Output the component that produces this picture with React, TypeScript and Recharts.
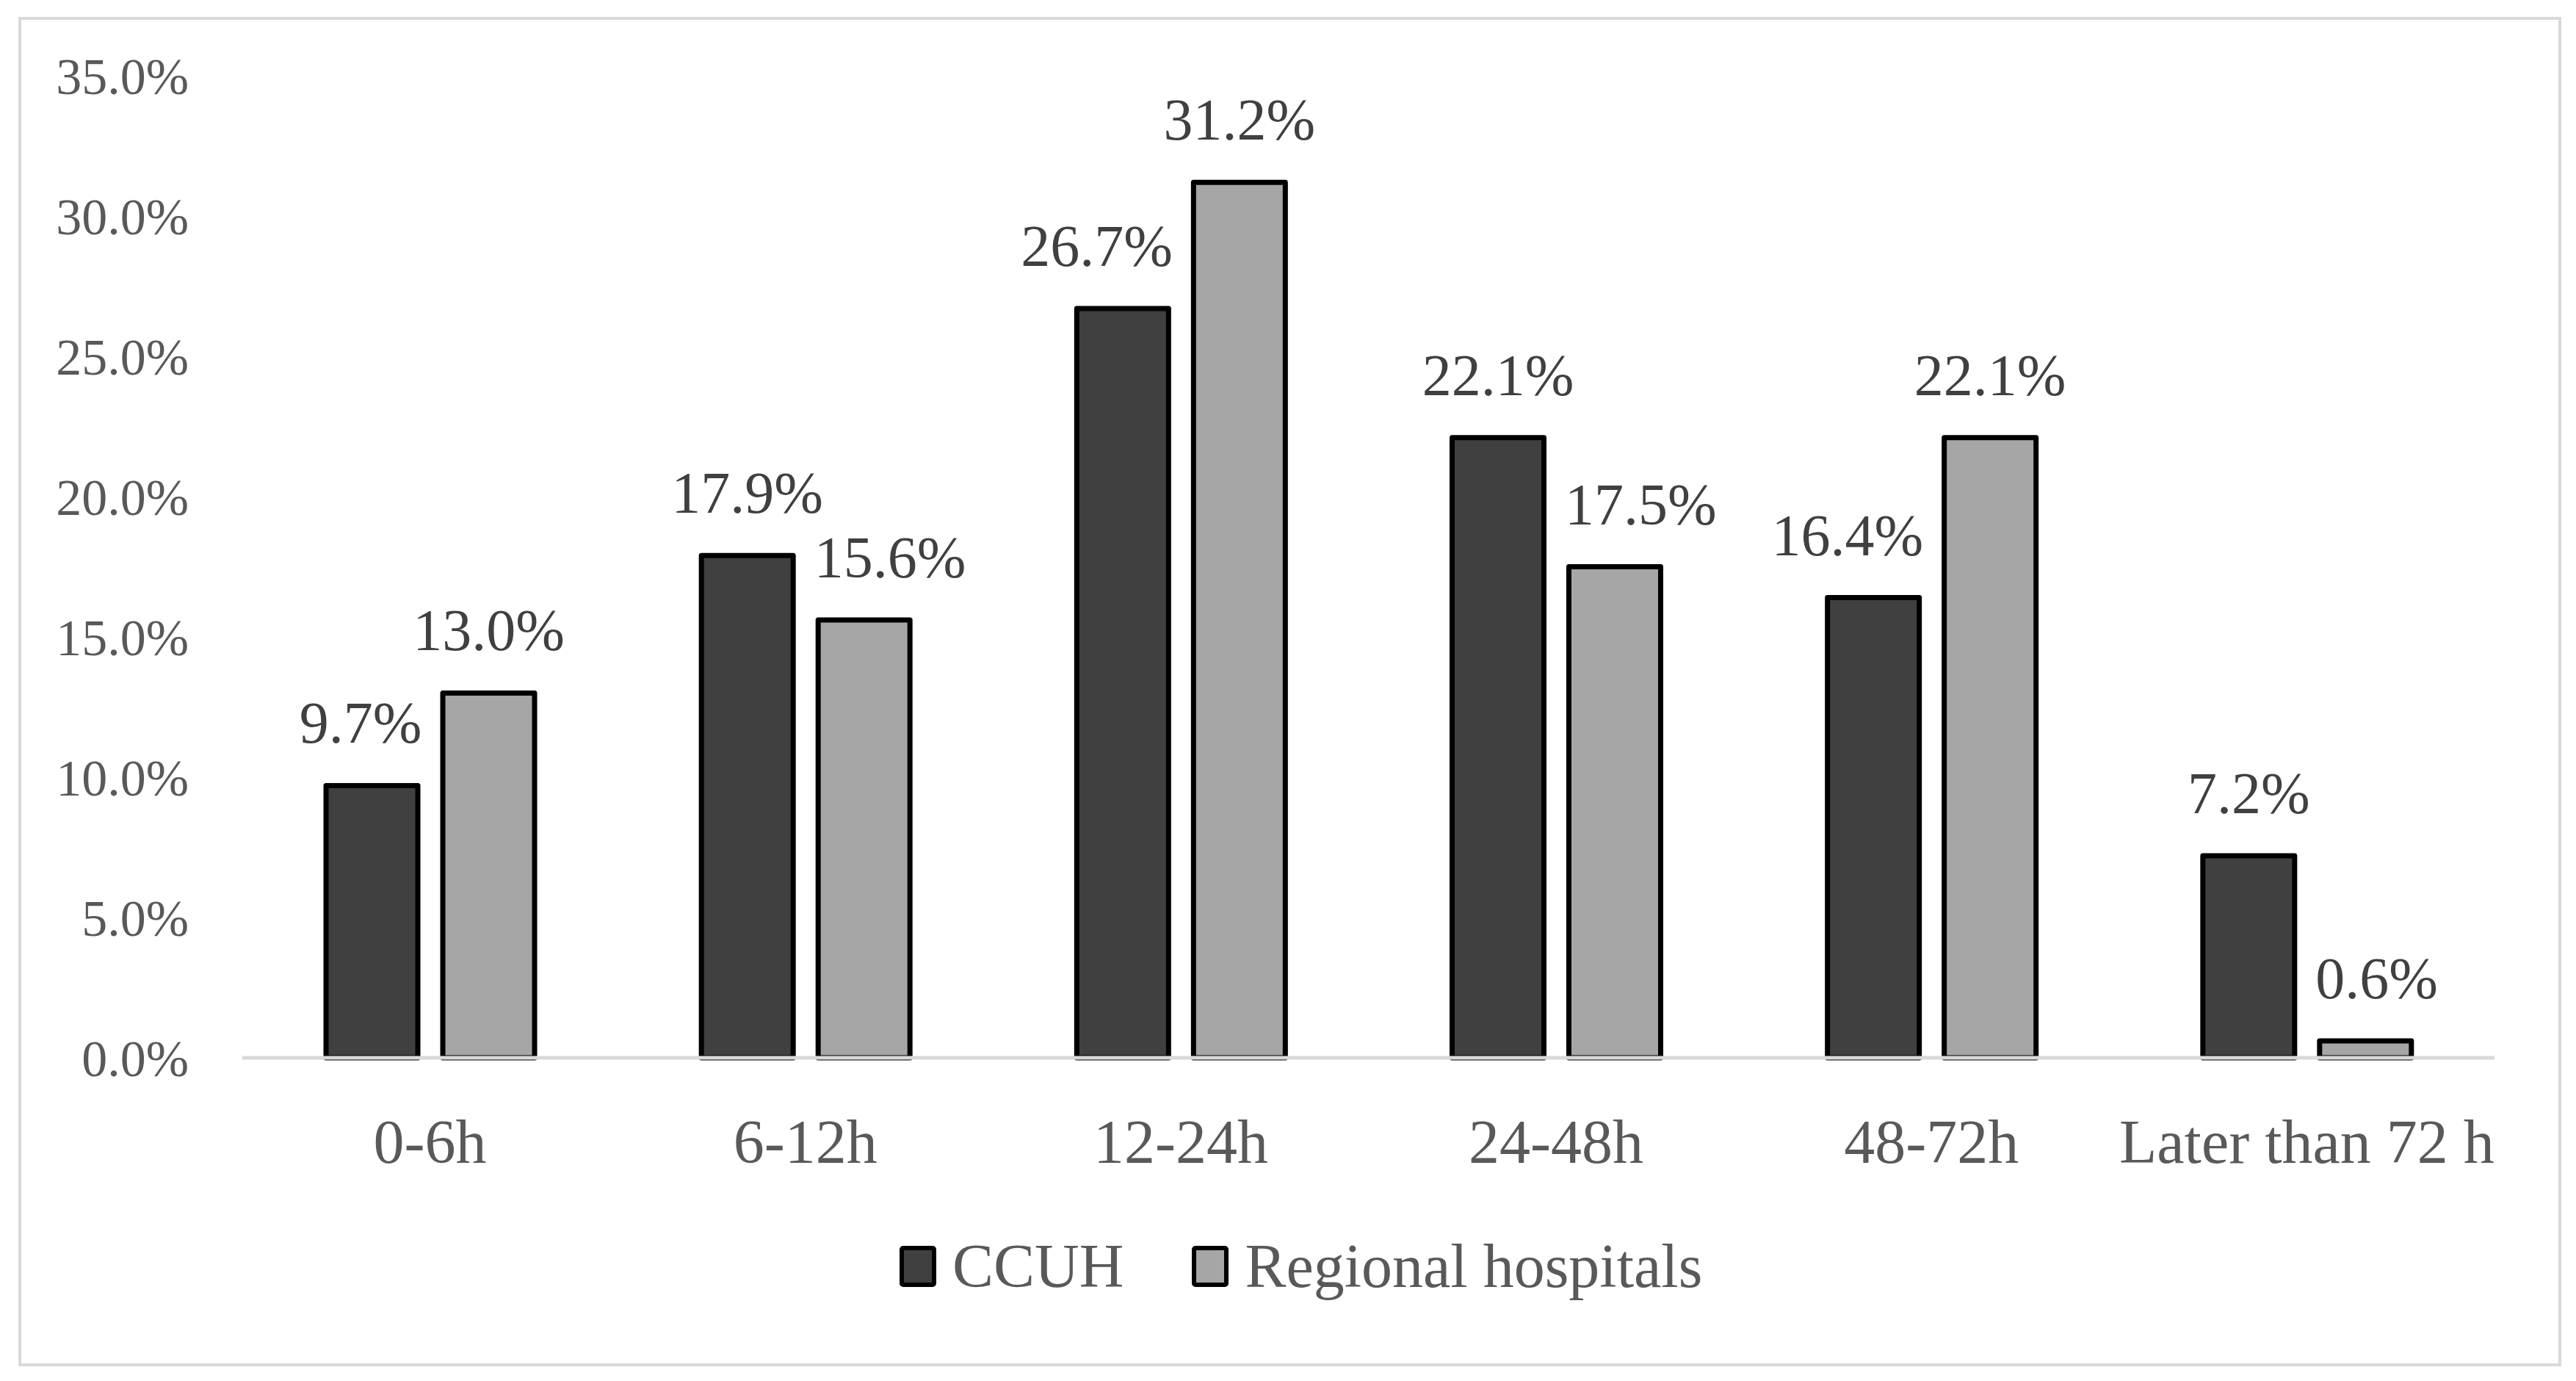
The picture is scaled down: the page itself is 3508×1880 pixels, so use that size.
import React from "react";
import { Bar, BarChart, LabelList, Legend, XAxis, YAxis } from "recharts";

const categories = ["0-6h", "6-12h", "12-24h", "24-48h", "48-72h", "Later than 72 h"];
const ccuh = [9.7, 17.9, 26.7, 22.1, 16.4, 7.2];
const regional = [13.0, 15.6, 31.2, 17.5, 22.1, 0.6];
const yTicks = [0, 5, 10, 15, 20, 25, 30, 35];

const data = categories.map((category, i) => ({
  category,
  ccuh: ccuh[i],
  regional: regional[i],
}));

const FONT = "'Liberation Serif', 'Times New Roman', serif";
const TEXT = "#595959";
const LABEL_SIZE = 80;
const LABEL_OFFSET = 58;
const BAR_SIZE = 125;
const BAR_GAP = 34;
const STROKE = 7;

const pct = (v: number | string) => `${Number(v).toFixed(1)}%`;

// rough width of a label like "26.7%" in the serif font
const labelWidth = (s: string) =>
  [...s].reduce((w, ch) => w + (ch === "." ? 0.25 : ch === "%" ? 0.833 : 0.5), 0) * LABEL_SIZE;

// Excel-like nudge: move a label away from the taller neighbouring bar
function makeLabel(own: number[], other: number[], dir: -1 | 1) {
  return (props: any) => {
    const vb = props.viewBox ?? props;
    const { x, y, width } = vb;
    const i = props.index;
    const text = pct(props.value);
    let shift = 0;
    if (other[i] > own[i]) {
      const room = BAR_SIZE / 2 + BAR_GAP - STROKE / 2;
      shift = Math.max(0, labelWidth(text) / 2 + 25 - room) * dir;
    }
    return (
      <text
        x={x + width / 2 + shift}
        y={y - LABEL_OFFSET}
        textAnchor="middle"
        fontSize={LABEL_SIZE}
        fontFamily={FONT}
        fill="#404040"
      >
        {text}
      </text>
    );
  };
}

function LegendContent({ payload }: { payload?: any[] }) {
  return (
    <div style={{ display: "flex", alignItems: "center", fontFamily: FONT, fontSize: 84, color: TEXT }}>
      {(payload ?? []).map((entry, i) => (
        <div key={entry.value} style={{ display: "flex", alignItems: "center", marginRight: i === 0 ? 93 : 0 }}>
          <svg width={50} height={56} style={{ marginRight: 22 }}>
            <rect x={3} y={3} width={44} height={50} rx={2} fill={entry.color} stroke="#000" strokeWidth={6} />
          </svg>
          <span style={{ lineHeight: 1 }}>{entry.value}</span>
        </div>
      ))}
    </div>
  );
}

export default function App() {
  return (
    <div style={{ position: "fixed", left: 0, top: 0, width: 3508, height: 1880, background: "#fff" }}>
      <div
        style={{
          position: "absolute",
          left: 25,
          top: 23,
          width: 3463,
          height: 1837,
          boxSizing: "border-box",
          border: "4px solid #d9d9d9",
        }}
      />
      <BarChart
        width={3508}
        height={1880}
        data={data}
        margin={{ top: 103, right: 111, bottom: 240, left: 0 }}
        barSize={BAR_SIZE}
        barGap={BAR_GAP}
        style={{ fontFamily: FONT }}
      >
        <YAxis
          type="number"
          domain={[0, 35]}
          ticks={yTicks}
          width={330}
          axisLine={false}
          tickLine={false}
          tickMargin={67}
          tickFormatter={pct}
          tick={{ fontSize: 70, fill: TEXT, fontFamily: FONT }}
        />
        <Bar dataKey="ccuh" name="CCUH" fill="#404040" stroke="#000" strokeWidth={STROKE} strokeLinejoin="round" isAnimationActive={false}>
          <LabelList dataKey="ccuh" content={makeLabel(ccuh, regional, -1)} />
        </Bar>
        <Bar dataKey="regional" name="Regional hospitals" fill="#a6a6a6" stroke="#000" strokeWidth={STROKE} strokeLinejoin="round" isAnimationActive={false}>
          <LabelList dataKey="regional" content={makeLabel(regional, ccuh, 1)} />
        </Bar>
        <XAxis
          dataKey="category"
          interval={0}
          height={200}
          axisLine={{ stroke: "#d9d9d9", strokeWidth: 5 }}
          tickLine={false}
          tickMargin={77}
          tick={{ fontSize: 84, fill: TEXT, fontFamily: FONT }}
        />
        <Legend
          layout="horizontal"
          verticalAlign="middle"
          align="center"
          wrapperStyle={{ left: 1225, top: 1682, width: "auto" }}
          content={<LegendContent />}
        />
      </BarChart>
    </div>
  );
}
